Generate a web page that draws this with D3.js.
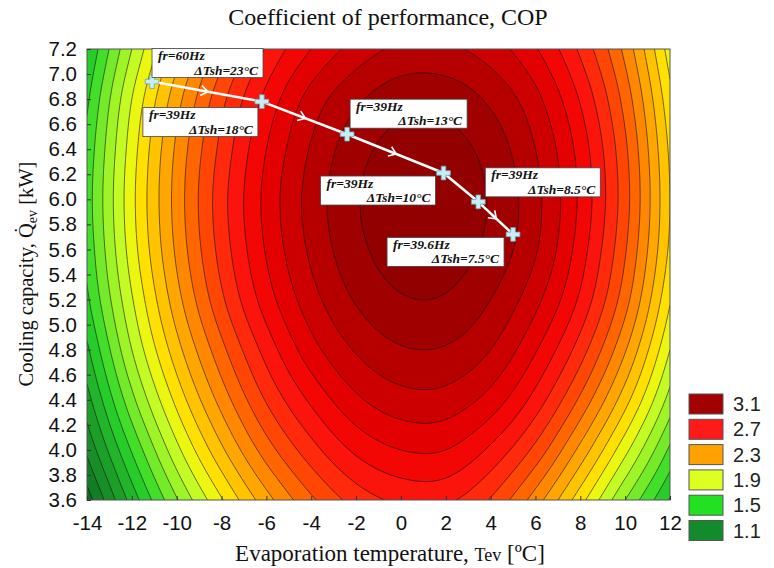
<!DOCTYPE html>
<html>
<head>
<meta charset="utf-8">
<script src="https://cdn.jsdelivr.net/npm/d3@7"></script>
<style>
  body { margin: 0; background: #fff; }
  svg { display: block; }
</style>
</head>
<body>
<svg id="chart" width="774" height="568"></svg>
<script>
// Evaporation temperature grid columns [°C] (also the x tick values)
const temperatures = [-14, -12, -10, -8, -6, -4, -2, 0, 2, 4, 6, 8, 10, 12];
// Cooling capacity grid rows [kW], top to bottom
const capacities = [7.2, 6.8, 6.4, 6.0, 5.6, 5.2, 4.8, 4.4, 4.0, 3.6];
// COP on the temperature x capacity grid (one row per capacity)
const copRow72 = [1.40, 1.80, 2.15, 2.45, 2.71, 2.90, 3.04, 3.12, 3.12, 3.05, 2.91, 2.68, 2.37, 1.95];
const copRow68 = [1.48, 1.90, 2.26, 2.57, 2.83, 3.04, 3.18, 3.26, 3.26, 3.18, 3.03, 2.79, 2.46, 2.03];
const copRow64 = [1.53, 1.95, 2.32, 2.63, 2.90, 3.11, 3.26, 3.34, 3.34, 3.26, 3.10, 2.86, 2.52, 2.08];
const copRow60 = [1.55, 1.97, 2.34, 2.66, 2.93, 3.14, 3.29, 3.37, 3.37, 3.29, 3.13, 2.88, 2.54, 2.10];
const copRow56 = [1.53, 1.95, 2.32, 2.64, 2.91, 3.12, 3.27, 3.35, 3.35, 3.27, 3.11, 2.85, 2.51, 2.08];
const copRow52 = [1.48, 1.89, 2.26, 2.58, 2.85, 3.06, 3.21, 3.29, 3.29, 3.20, 3.03, 2.78, 2.44, 2.01];
const copRow48 = [1.38, 1.80, 2.16, 2.47, 2.74, 2.96, 3.11, 3.19, 3.19, 3.10, 2.91, 2.65, 2.31, 1.90];
const copRow44 = [1.26, 1.67, 2.03, 2.34, 2.61, 2.82, 2.98, 3.06, 3.06, 2.96, 2.76, 2.48, 2.14, 1.76];
const copRow40 = [1.12, 1.51, 1.87, 2.18, 2.45, 2.66, 2.82, 2.90, 2.90, 2.78, 2.57, 2.27, 1.93, 1.58];
const copRow36 = [0.95, 1.34, 1.69, 1.99, 2.26, 2.48, 2.64, 2.72, 2.72, 2.59, 2.35, 2.04, 1.70, 1.39];
const copGrid = [copRow72, copRow68, copRow64, copRow60, copRow56, copRow52, copRow48, copRow44, copRow40, copRow36];

const yTickLabels = ["3.6", "3.8", "4.0", "4.2", "4.4", "4.6", "4.8", "5.0", "5.2", "5.4",
                     "5.6", "5.8", "6.0", "6.2", "6.4", "6.6", "6.8", "7.0", "7.2"];
const legendLevels = [3.1, 2.7, 2.3, 1.9, 1.5, 1.1];

// Operating path: evaporation temperature, capacity, compressor frequency, superheat
const pathTemp = [-11.1, -6.2, -2.4, 1.9, 3.45, 5.0];
const pathCap = [6.94, 6.78, 6.52, 6.21, 5.98, 5.72];
const pathFreq = ["60", "39", "39", "39", "39", "39.6"];
const pathSuperheat = ["23", "18", "13", "10", "8.5", "7.5"];

// ---- layout ----
const svg = d3.select("#chart");
const plot = { left: 87, right: 670, top: 49, bottom: 500 };
const x = d3.scaleLinear().domain([-14, 12]).range([plot.left, plot.right]);
const y = d3.scaleLinear().domain([3.6, 7.2]).range([plot.bottom, plot.top]);

// fill colour of the contour bands
const color = d3.scaleLinear()
  .domain([0.9, 1.0, 1.3, 1.5, 1.7, 1.9, 2.0, 2.2, 2.3, 2.5, 2.7, 2.9, 3.0, 3.1, 3.2, 3.3, 3.4])
  .range(["#0a5e1c", "#0f7424", "#1fa82a", "#2ad82a", "#8cf02a", "#d8ff22", "#ffee00", "#ffb400",
          "#ff9900", "#ff5500", "#ff1a10", "#ee0000", "#d80000", "#c20000", "#aa0000", "#980000", "#8c0000"])
  .clamp(true);
// legend swatch colours, in legendLevels order
const legendColors = ["#a30000", "#ff1a1a", "#ffa200", "#ddff22", "#22e022", "#138a2c"];

// smooth resampling of the grid for drawing (Catmull-Rom in both directions)
function cr(p0, p1, p2, p3, t) {
  return 0.5 * ((2 * p1) + (-p0 + p2) * t + (2 * p0 - 5 * p1 + 4 * p2 - p3) * t * t +
                (-p0 + 3 * p1 - 3 * p2 + p3) * t * t * t);
}
const nCols = temperatures.length, nRows = capacities.length;
function cell(i, j) {
  // linear extension past the grid edge keeps the edge slope
  if (i < 0) return 2 * cell(0, j) - cell(1, j);
  if (i > nCols - 1) return 2 * cell(nCols - 1, j) - cell(nCols - 2, j);
  if (j < 0) return 2 * cell(i, 0) - cell(i, 1);
  if (j > nRows - 1) return 2 * cell(i, nRows - 1) - cell(i, nRows - 2);
  return copGrid[j][i];
}
function copAt(T, Q) {
  const fx = (T - temperatures[0]) / (temperatures[1] - temperatures[0]);
  const fy = (capacities[0] - Q) / (capacities[0] - capacities[1]);
  const i = Math.max(0, Math.min(nCols - 2, Math.floor(fx)));
  const j = Math.max(0, Math.min(nRows - 2, Math.floor(fy)));
  const tx = fx - i, ty = fy - j;
  const rows = [];
  for (let k = -1; k <= 2; k++) {
    rows.push(cr(cell(i - 1, j + k), cell(i, j + k), cell(i + 1, j + k), cell(i + 2, j + k), tx));
  }
  return cr(rows[0], rows[1], rows[2], rows[3], ty);
}

const dT = 0.1, dQ = 0.02;
const nx = Math.round(26 / dT) + 1, ny = Math.round(3.6 / dQ) + 1;
const values = new Float64Array(nx * ny);
for (let j = 0; j < ny; j++) {
  for (let i = 0; i < nx; i++) {
    values[i + j * nx] = copAt(-14 + i * dT, 7.2 - j * dQ);
  }
}

const thresholds = d3.range(8, 35).map(d => d / 10);
const contours = d3.contours().size([nx, ny]).thresholds(thresholds)(values);

const proj = d3.geoTransform({
  point: function (cx, cy) {
    this.stream.point(x(-14 + (cx - 0.5) * dT), y(7.2 - (cy - 0.5) * dQ));
  }
});
const path = d3.geoPath(proj);

svg.append("defs").append("clipPath").attr("id", "plotClip")
  .append("rect")
  .attr("x", plot.left).attr("y", plot.top)
  .attr("width", plot.right - plot.left).attr("height", plot.bottom - plot.top);

const field = svg.append("g").attr("clip-path", "url(#plotClip)");
field.append("rect")
  .attr("x", plot.left).attr("y", plot.top)
  .attr("width", plot.right - plot.left).attr("height", plot.bottom - plot.top)
  .attr("fill", color(0.85));

field.selectAll("path.band")
  .data(contours)
  .join("path")
  .attr("class", "band")
  .attr("d", path)
  .attr("fill", d => color(d.value + 0.05))
  .attr("stroke", "none");

field.selectAll("path.iso")
  .data(contours.filter(d => d.value >= 0.9))
  .join("path")
  .attr("class", "iso")
  .attr("d", path)
  .attr("fill", "none")
  .attr("stroke", "#111")
  .attr("stroke-opacity", 0.75)
  .attr("stroke-width", 0.8);

// frame
svg.append("rect")
  .attr("x", plot.left).attr("y", plot.top)
  .attr("width", plot.right - plot.left).attr("height", plot.bottom - plot.top)
  .attr("fill", "none").attr("stroke", "#555").attr("stroke-width", 1);

// axes
const tickFont = "'Liberation Sans', Arial, sans-serif";
const yAxis = d3.axisLeft(y)
  .tickValues(yTickLabels.map(Number))
  .tickFormat((d, i) => yTickLabels[i])
  .tickSizeInner(-4).tickSizeOuter(0).tickPadding(10);
const gy = svg.append("g").attr("transform", `translate(${plot.left},0)`).call(yAxis);

const xAxis = d3.axisBottom(x)
  .tickValues(temperatures)
  .tickFormat(d => String(d))
  .tickSizeInner(-4).tickSizeOuter(0).tickPadding(15);
const gx = svg.append("g").attr("transform", `translate(0,${plot.bottom})`).call(xAxis);

[gx, gy].forEach(g => {
  g.select(".domain").remove();
  g.selectAll(".tick line").attr("stroke", "#333");
  g.selectAll(".tick text")
    .attr("font-family", tickFont).attr("font-size", 20.5).attr("fill", "#111");
});

// titles
const serif = "'Liberation Serif', 'Times New Roman', serif";
svg.append("text")
  .attr("x", 388).attr("y", 25)
  .attr("text-anchor", "middle")
  .attr("font-family", serif).attr("font-size", 24).attr("fill", "#111")
  .text("Coefficient of performance, COP");

const xt = svg.append("text")
  .attr("x", 390).attr("y", 561)
  .attr("text-anchor", "middle")
  .attr("font-family", serif).attr("font-size", 23).attr("fill", "#111");
xt.append("tspan").text("Evaporation temperature, ");
xt.append("tspan").attr("font-size", 18).text("Tev");
xt.append("tspan").text(" [\u00BAC]");

const yt = svg.append("text")
  .attr("transform", "translate(33,274) rotate(-90)")
  .attr("text-anchor", "middle")
  .attr("font-family", serif).attr("font-size", 20.5).attr("fill", "#111");
yt.append("tspan").text("Cooling capacity, Q\u0307");
yt.append("tspan").attr("font-size", 14).attr("dy", 4).text("ev");
yt.append("tspan").attr("dy", -4).text(" [kW]");

// operating path
const pts = pathTemp.map((t, i) => [x(t), y(pathCap[i])]);
svg.append("path")
  .attr("d", d3.line()(pts))
  .attr("fill", "none").attr("stroke", "#fff").attr("stroke-width", 2.6)
  .attr("stroke-linejoin", "round");

// direction chevrons on segments
[0, 1, 2, 4].forEach(k => {
  const [x0, y0] = pts[k], [x1, y1] = pts[k + 1];
  const mx = (x0 + x1) / 2, my = (y0 + y1) / 2;
  const ang = Math.atan2(y1 - y0, x1 - x0) * 180 / Math.PI;
  svg.append("path")
    .attr("d", "M-6,-5 L1,0 L-6,5")
    .attr("transform", `translate(${mx},${my}) rotate(${ang})`)
    .attr("fill", "none").attr("stroke", "#fff").attr("stroke-width", 1.6);
});

svg.selectAll("path.marker")
  .data(pts)
  .join("path")
  .attr("class", "marker")
  .attr("d", d3.symbol(d3.symbolCross, 105))
  .attr("transform", d => `translate(${d[0]},${d[1]})`)
  .attr("fill", "#c6eef4").attr("stroke", "#6aa6b8").attr("stroke-width", 0.8);

// point annotations: box offset from its point and box width
const labelPlacement = [
  { dx: 0, dy: -33, w: 111 },
  { dx: -119, dy: 6, w: 115 },
  { dx: 3, dy: -35, w: 117 },
  { dx: -123, dy: 3, w: 115 },
  { dx: 7, dy: -34, w: 115 },
  { dx: -126, dy: 3, w: 117 }
];
const boxH = 29;
pts.forEach((p, i) => {
  const L = labelPlacement[i];
  const bx = p[0] + L.dx, by = p[1] + L.dy;
  const g = svg.append("g");
  g.append("rect")
    .attr("x", bx).attr("y", by).attr("width", L.w).attr("height", boxH)
    .attr("fill", "#fff").attr("stroke", "#444").attr("stroke-width", 0.8);
  g.append("text")
    .attr("x", bx + 6).attr("y", by + 11.5)
    .attr("font-family", serif).attr("font-style", "italic").attr("font-weight", "bold")
    .attr("font-size", 13.5).attr("fill", "#111")
    .text(`fr=${pathFreq[i]}Hz`);
  g.append("text")
    .attr("x", bx + L.w - 5).attr("y", by + 26)
    .attr("text-anchor", "end")
    .attr("font-family", serif).attr("font-style", "italic").attr("font-weight", "bold")
    .attr("font-size", 13.5).attr("fill", "#111")
    .text(`\u0394Tsh=${pathSuperheat[i]}\u00B0C`);
});

// legend
const lg = svg.append("g");
legendLevels.forEach((v, i) => {
  const yy = 394 + i * 25.3;
  lg.append("rect")
    .attr("x", 689).attr("y", yy).attr("width", 34).attr("height", 20)
    .attr("fill", legendColors[i]).attr("stroke", "#555").attr("stroke-width", 1);
  lg.append("text")
    .attr("x", 733).attr("y", yy + 17)
    .attr("font-family", tickFont).attr("font-size", 20).attr("fill", "#222")
    .text(v.toFixed(1));
});
</script>
</body>
</html>
